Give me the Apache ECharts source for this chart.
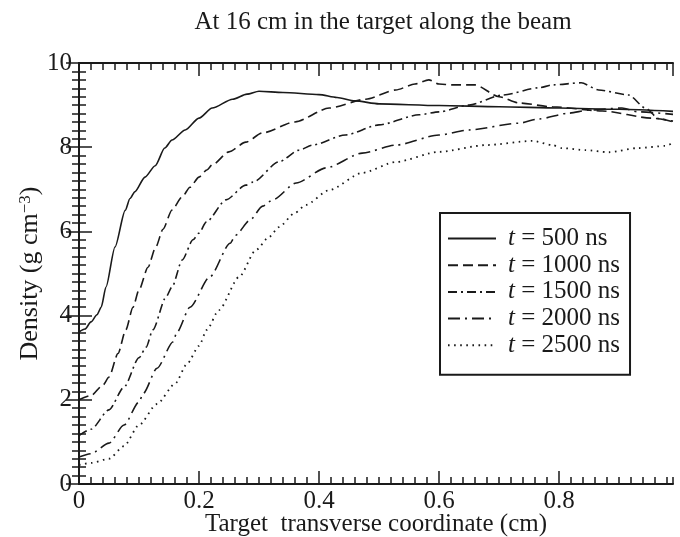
<!DOCTYPE html>
<html>
<head>
<meta charset="utf-8">
<script src="https://cdn.jsdelivr.net/npm/echarts@6/dist/echarts.min.js"></script>
<style>html,body{margin:0;padding:0;background:#fff}#c{width:680px;height:537px}</style>
</head>
<body>
<div id="c"></div>
<script>
var seriesNames = ['t = 500 ns', 't = 1000 ns', 't = 1500 ns', 't = 2000 ns', 't = 2500 ns'];
var xTickLabels = ['0', '0.2', '0.4', '0.6', '0.8'];
var yTickLabels = ['0', '2', '4', '6', '8', '10'];

var d500 = [[0,3.61],[0.01,3.68],[0.02,3.85],[0.03,4.02],[0.037,4.2],[0.045,4.68],[0.06,5.63],[0.077,6.5],[0.085,6.78],[0.093,6.94],[0.11,7.29],[0.127,7.56],[0.143,7.98],[0.155,8.17],[0.177,8.41],[0.2,8.69],[0.222,8.93],[0.256,9.14],[0.28,9.26],[0.30,9.33],[0.34,9.30],[0.40,9.25],[0.43,9.18],[0.46,9.1],[0.5,9.03],[0.6,8.99],[0.7,8.96],[0.8,8.93],[0.9,8.9],[0.99,8.85]];
var d1000 = [[0,2.0],[0.02,2.1],[0.04,2.35],[0.05,2.54],[0.065,3.1],[0.078,3.66],[0.09,4.2],[0.1,4.61],[0.115,5.15],[0.128,5.63],[0.14,6.05],[0.155,6.51],[0.172,6.82],[0.185,7.05],[0.2,7.29],[0.213,7.46],[0.222,7.58],[0.25,7.89],[0.278,8.12],[0.306,8.34],[0.36,8.6],[0.417,8.93],[0.478,9.14],[0.528,9.36],[0.56,9.5],[0.583,9.6],[0.6,9.5],[0.622,9.48],[0.66,9.48],[0.70,9.2],[0.733,9.05],[0.789,8.96],[0.872,8.86],[0.955,8.69],[0.99,8.62]];
var d1500 = [[0,1.15],[0.02,1.3],[0.05,1.76],[0.075,2.3],[0.1,3.0],[0.112,3.25],[0.123,3.66],[0.145,4.44],[0.155,4.68],[0.172,5.32],[0.19,5.8],[0.2,5.96],[0.212,6.22],[0.245,6.75],[0.278,7.1],[0.29,7.17],[0.333,7.65],[0.367,7.93],[0.389,8.05],[0.444,8.29],[0.5,8.53],[0.567,8.77],[0.6,8.84],[0.65,9.0],[0.706,9.24],[0.766,9.41],[0.79,9.48],[0.837,9.53],[0.866,9.36],[0.916,9.24],[0.944,8.93],[0.966,8.68],[0.99,8.6]];
var d2000 = [[0,0.64],[0.02,0.72],[0.05,0.97],[0.075,1.4],[0.1,1.95],[0.107,2.15],[0.13,2.75],[0.157,3.38],[0.163,3.6],[0.185,4.2],[0.218,4.92],[0.252,5.72],[0.261,5.91],[0.285,6.27],[0.306,6.6],[0.323,6.75],[0.362,7.15],[0.412,7.51],[0.472,7.86],[0.528,8.05],[0.6,8.29],[0.65,8.41],[0.733,8.57],[0.766,8.67],[0.817,8.81],[0.849,8.88],[0.905,8.93],[0.932,8.84],[0.99,8.78]];
var d2500 = [[0,0.45],[0.02,0.5],[0.05,0.6],[0.075,0.9],[0.1,1.4],[0.13,1.9],[0.16,2.38],[0.18,2.85],[0.2,3.28],[0.213,3.66],[0.233,4.13],[0.267,4.92],[0.295,5.56],[0.317,5.87],[0.333,6.1],[0.36,6.44],[0.378,6.63],[0.417,6.98],[0.472,7.39],[0.528,7.65],[0.6,7.89],[0.678,8.05],[0.756,8.15],[0.789,8.05],[0.805,7.98],[0.844,7.93],[0.883,7.88],[0.932,7.98],[0.977,8.03],[0.99,8.1]];

var seriesData = [d500, d1000, d1500, d2000, d2500];
var dashes = ['solid', [10, 5], [9, 4, 2, 4], [12, 5, 2, 5], [1.6, 4.5]];

var FONT = '"Liberation Serif", "Times New Roman", serif';
var INK = '#1a1a1a';
var chart = echarts.init(document.getElementById('c'), null, {renderer: 'canvas'});

function xAxisDef(pos, interval, tickLen, main) {
  return {
    type: 'value', position: pos, min: 0, max: 0.99, interval: interval,
    axisLine: {show: main, lineStyle: {color: INK, width: 2}},
    axisTick: {show: true, inside: true, length: tickLen, lineStyle: {color: INK, width: 1.5}},
    axisLabel: {show: main && pos === 'bottom', showMaxLabel: false, margin: 5,
      fontFamily: FONT, fontSize: 25, color: INK,
      formatter: function (v) { var i = Math.round(v / 0.2); return xTickLabels[i] || ''; }},
    splitLine: {show: false},
    name: (main && pos === 'bottom') ? 'Target  transverse coordinate (cm)' : '',
    nameLocation: 'middle', nameGap: 28, nameMoveOverlap: false,
    nameTextStyle: {fontFamily: FONT, fontSize: 25, color: INK}
  };
}
function yAxisDef(pos, main) {
  return {
    type: 'value', position: pos, min: 0, max: 10, interval: 2,
    axisLine: {show: true, lineStyle: {color: INK, width: 2}},
    axisTick: {show: true, inside: true, length: 13, lineStyle: {color: INK, width: 1.5}},
    minorTick: {show: true, splitNumber: 10, length: 7, lineStyle: {color: INK, width: 1.5}},
    axisLabel: {show: main, margin: 7, fontFamily: FONT, fontSize: 25, color: INK,
      formatter: function (v) { return yTickLabels[Math.round(v / 2)]; }},
    splitLine: {show: false}, minorSplitLine: {show: false},
    name: main ? 'Density (g cm{sup|\u22123})' : '',
    nameLocation: 'middle', nameGap: 36, nameRotate: 90, nameMoveOverlap: false,
    nameTextStyle: {fontFamily: FONT, fontSize: 26, color: INK,
      rich: {sup: {fontFamily: FONT, fontSize: 17, color: INK, verticalAlign: 'top', lineHeight: 15}}}
  };
}

var series = seriesNames.map(function (n, i) {
  return {
    name: n, type: 'line', data: seriesData[i], symbol: 'none', showSymbol: false,
    smooth: 0.25, smoothMonotone: 'x',
    xAxisIndex: 0, yAxisIndex: 0, animation: false, color: INK,
    itemStyle: {color: INK},
    lineStyle: {color: INK, width: i === 4 ? 1.8 : 1.6, type: dashes[i]}
  };
});

chart.setOption({
  backgroundColor: '#ffffff',
  animation: false,
  title: {text: 'At 16 cm in the target along the beam', left: 378, top: 5, textAlign: 'center',
    textStyle: {fontFamily: FONT, fontSize: 25, fontWeight: 'normal', color: INK}},
  grid: {left: 79, right: 7, top: 63, bottom: 53, containLabel: false, outerBoundsMode: 'none'},
  xAxis: [xAxisDef('bottom', 0.2, 13, true), xAxisDef('bottom', 0.02, 7, false),
          xAxisDef('top', 0.2, 13, true), xAxisDef('top', 0.02, 7, false)],
  yAxis: [yAxisDef('left', true), yAxisDef('right', false)],
  legend: {
    orient: 'vertical', left: 440, top: 213,
    data: seriesNames, itemWidth: 48, itemHeight: 14, itemGap: 1.7,
    borderColor: INK, borderWidth: 2, borderRadius: 0,
    padding: [13, 10, 17, 7], backgroundColor: '#fff',
    itemStyle: {opacity: 0},
    textStyle: {fontFamily: FONT, fontSize: 25, color: INK, lineHeight: 24, padding: [0, 0, 0, 7],
      rich: {i: {fontFamily: FONT, fontSize: 25, fontStyle: 'italic', color: INK, lineHeight: 24}}},
    formatter: function (name) { return '{i|t}' + name.slice(1); }
  },
  series: series
});
</script>
</body>
</html>
